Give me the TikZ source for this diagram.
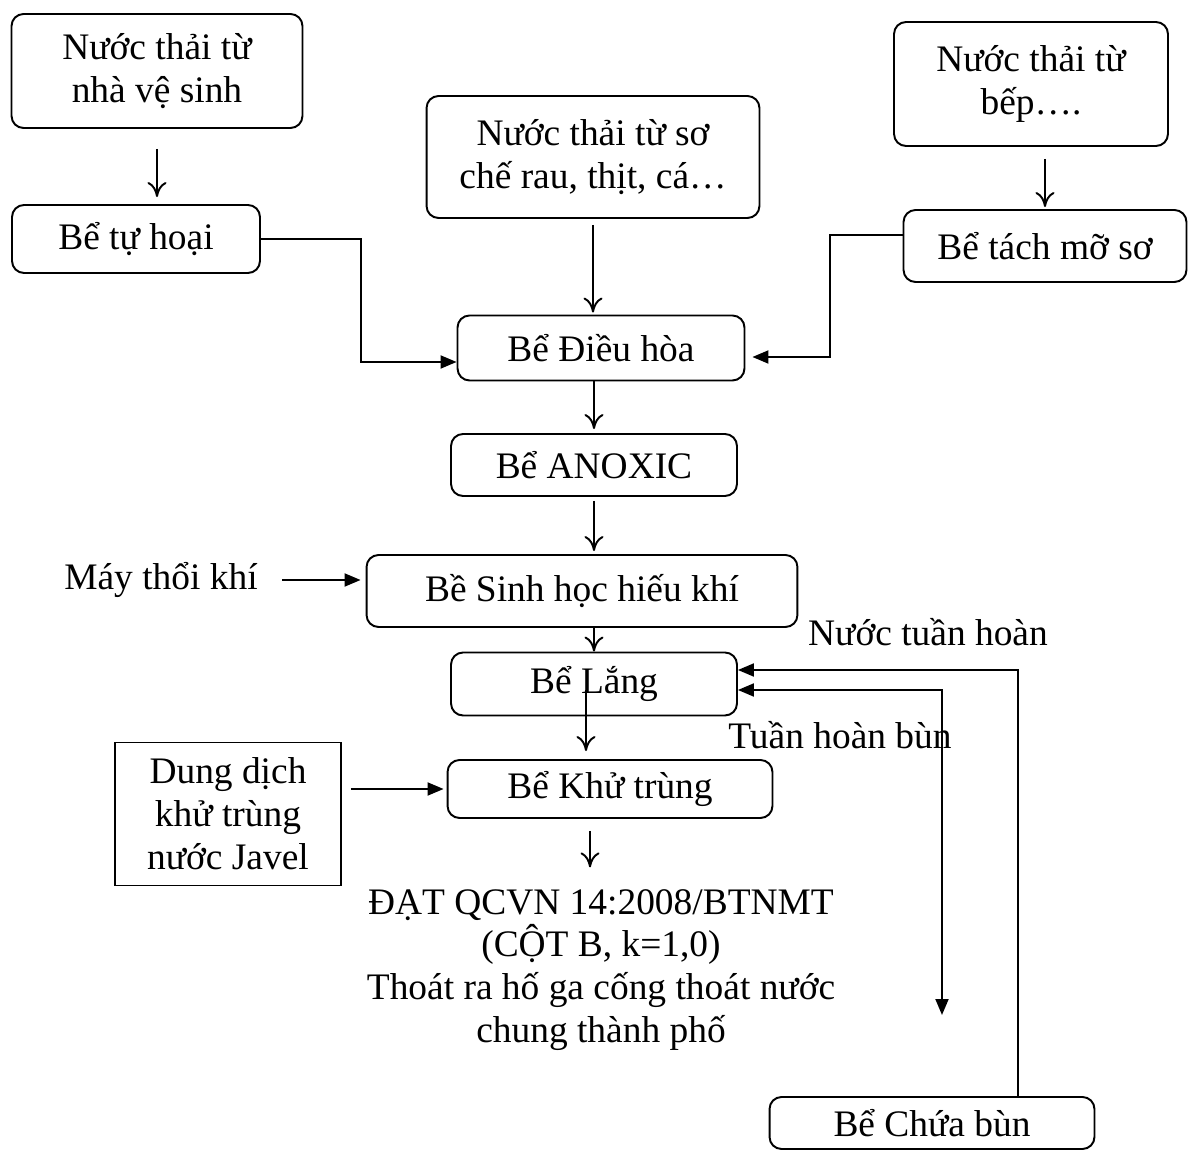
\documentclass[tikz,border=0pt]{standalone}
\usepackage{fontspec}
\setmainfont{Liberation Serif}
\usetikzlibrary{positioning,calc,arrows.meta}

\tikzset{
	tank/.style={draw, rounded corners=0.24cm, align=center, inner sep=0pt},
	flow/.style={-{To[length=0.3cm,width=0.38cm]}},
	feed/.style={-{Triangle[length=0.32cm,width=0.26cm]}},
	feedboth/.style={{Triangle[length=0.32cm,width=0.26cm]}-{Triangle[length=0.32cm,width=0.26cm]}},
}

\begin{document}
\begin{tikzpicture}[x=0.02cm, y=-0.02cm, line width=1.1pt, font=\fontsize{21.3}{24.4}\selectfont]
		\useasboundingbox (0,0) rectangle (1188,1151);
		% sources
		\node[tank, minimum width=5.82cm, minimum height=2.28cm] (nvs) at (157,71) {Nước thải từ\\nhà vệ sinh};
		\node[tank, minimum width=4.96cm, minimum height=1.36cm] (tuhoai) at (136,239) {Bể tự hoại};
		\node[tank, minimum width=6.66cm, minimum height=2.44cm] (soche) at (593,157) {Nước thải từ sơ\\chế rau, thịt, cá…};
		\node[tank, minimum width=5.48cm, minimum height=2.48cm] (bep) at (1031,84) {Nước thải từ\\bếp….};
		\node[tank, minimum width=5.66cm, minimum height=1.44cm] (tachmo) at (1045,246) {Bể tách mỡ sơ};
		% treatment line
		\node[tank, minimum width=5.74cm, minimum height=1.30cm] (dieuhoa) at (601,348) {Bể Điều hòa};
		\node[tank, minimum width=5.72cm, minimum height=1.24cm] (anoxic) at (594,465) {Bể ANOXIC};
		\node[tank, minimum width=8.62cm, minimum height=1.44cm] (sinhhoc) at (582,591) {Bề Sinh học hiếu khí};
		\node[tank, minimum width=5.72cm, minimum height=1.26cm] (lang) at (594,684) {Bể Lắng};
		\node[tank, minimum width=6.50cm, minimum height=1.16cm] (khutrung) at (610,789) {Bể Khử trùng};
		\node[tank, minimum width=6.50cm, minimum height=1.04cm] (chuabun) at (932,1123) {Bể Chứa bùn};
		\node[draw, align=center, minimum width=4.52cm, minimum height=2.86cm] (javel) at (228,814) {Dung dịch\\khử trùng\\nước Javel};
		\node (maythoi) at (161,580) {Máy thổi khí};
		\node[align=center] (out) at (601,970) {ĐẠT QCVN 14:2008/BTNMT\\(CỘT B, k=1,0)\\Thoát ra hố ga cống thoát nước\\chung thành phố};
		\node (ntuanhoan) at (928,632) {Nước tuần hoàn};
		\node (thbun) at (840,735) {Tuần hoàn bùn};
		\coordinate (sink) at (942,1015);
		% vertical flow
		\draw[flow, shorten <=0.4cm, shorten >=0.14cm] (nvs.south) -- (nvs.south |- tuhoai.north);
		\draw[flow, shorten <=0.12cm, shorten >=0.04cm] (soche.south) -- (soche.south |- dieuhoa.north);
		\draw[flow, shorten <=0.24cm, shorten >=0.04cm] (tachmo.north |- bep.south) -- (tachmo.north);
		\draw[flow, shorten >=0.08cm] (dieuhoa.south -| anoxic.north) -- (anoxic.north);
		\draw[flow, shorten <=0.08cm, shorten >=0.06cm] (anoxic.south) -- (anoxic.south |- sinhhoc.north);
		\draw[flow] (lang.north |- sinhhoc.south) -- (lang.north);
		\draw[flow, shorten >=0.16cm] ([xshift=-0.16cm]lang.south) ++(0,-26) -- ([xshift=-0.16cm]lang.south |- khutrung.north);
		\draw[flow, shorten <=0.24cm, shorten >=0.3cm] ([xshift=-0.4cm]khutrung.south) -- ([xshift=-0.4cm]khutrung.south |- out.north);
		% side inputs
		\draw[feed] (tuhoai.east) -- ++(100,0) |- ([yshift=-0.28cm]dieuhoa.west);
		\draw[feed, shorten >=0.14cm] ([yshift=0.22cm]tachmo.west) -- ++(-73,0) |- ([yshift=-0.18cm]dieuhoa.east);
		\draw[feed, shorten <=0.36cm, shorten >=0.1cm] (maythoi.east) -- (maythoi.east -| sinhhoc.west);
		\draw[feed, shorten >=0.06cm] ([xshift=0.18cm]javel.east |- khutrung.west) -- (khutrung.west);
		% recirculation
		\draw[feed] ([xshift=1.72cm]chuabun.north) |- ([yshift=0.28cm]lang.east);
		\draw[feedboth] (sink) |- ([yshift=-0.12cm]lang.east);
\end{tikzpicture}
\end{document}
